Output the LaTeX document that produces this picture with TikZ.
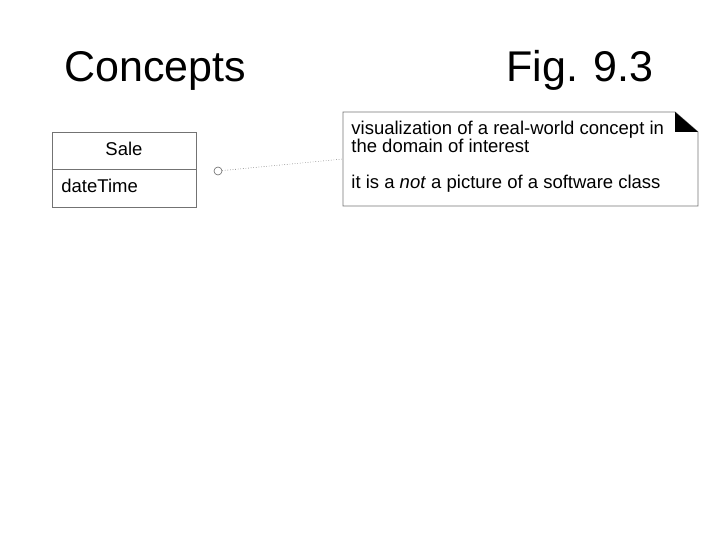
\documentclass[tikz,border=0pt]{standalone}
\usepackage{fontspec}
\setmainfont{Liberation Sans}
\usepackage{tikz}
\usetikzlibrary{positioning}

\begin{document}
\begin{tikzpicture}[x=1pt, y=-1pt, line width=0.8pt,
    title/.style={anchor=base west, inner sep=0pt, font=\fontsize{43}{43}\selectfont},
    txt/.style={anchor=base west, inner sep=0pt, font=\fontsize{18.5}{18}\selectfont},
    umlline/.style={draw=black!55, line width=0.9pt}]

        % frame of the slide
        \useasboundingbox (0,0) rectangle (720,540);

        % Titles
        \node[title] (concepts) at (64,82) {Concepts};
        \node[title] (fig) at (506,82) {Fig. 9.3};

        % The class box
        \coordinate (S1) at (52,132);
        \coordinate (S2) at (196,207);
        \node[inner sep=0pt, minimum width=144, minimum height=75] (sale) at (124,169.5) {};
        \draw[umlline] (S1) rectangle (S2);
        \draw[umlline] (sale.west) -- (sale.east);

        \node[txt, anchor=base] (salename) at (124,156) {Sale};
        \node[txt] (datetime) at (61,193) {dateTime};

        % Note with folded corner
        \coordinate (N1) at (343,112);
        \coordinate (N2) at (675,112);
        \coordinate (N3) at (698,132);
        \coordinate (N4) at (698,206);
        \coordinate (N5) at (343,206);
        \coordinate (N6) at (675,132);
        \node[inner sep=0pt, minimum width=355, minimum height=94] (note) at (520.5,159) {};

        \draw[umlline] (N1) -- (N2) -- (N3) -- (N4) -- (N5) -- cycle;
        \fill (N2) -- (N6) -- (N3) -- cycle;

        \node[txt] (line1) at (351,135) {visualization of a real-world concept in};
        \node[txt] (line2) at (351,153) {the domain of interest};
        \node[txt] (line3) at (351,189) {it is a \textit{not} a picture of a software class};

        % Anchor of the note
        \node[circle, draw=black!60, line width=0.6pt, minimum size=8, inner sep=0pt] (dot) at (218,171) {};
        \draw[black!60, line width=0.6pt, dotted] (dot) -- (note.west);

\end{tikzpicture}
\end{document}
